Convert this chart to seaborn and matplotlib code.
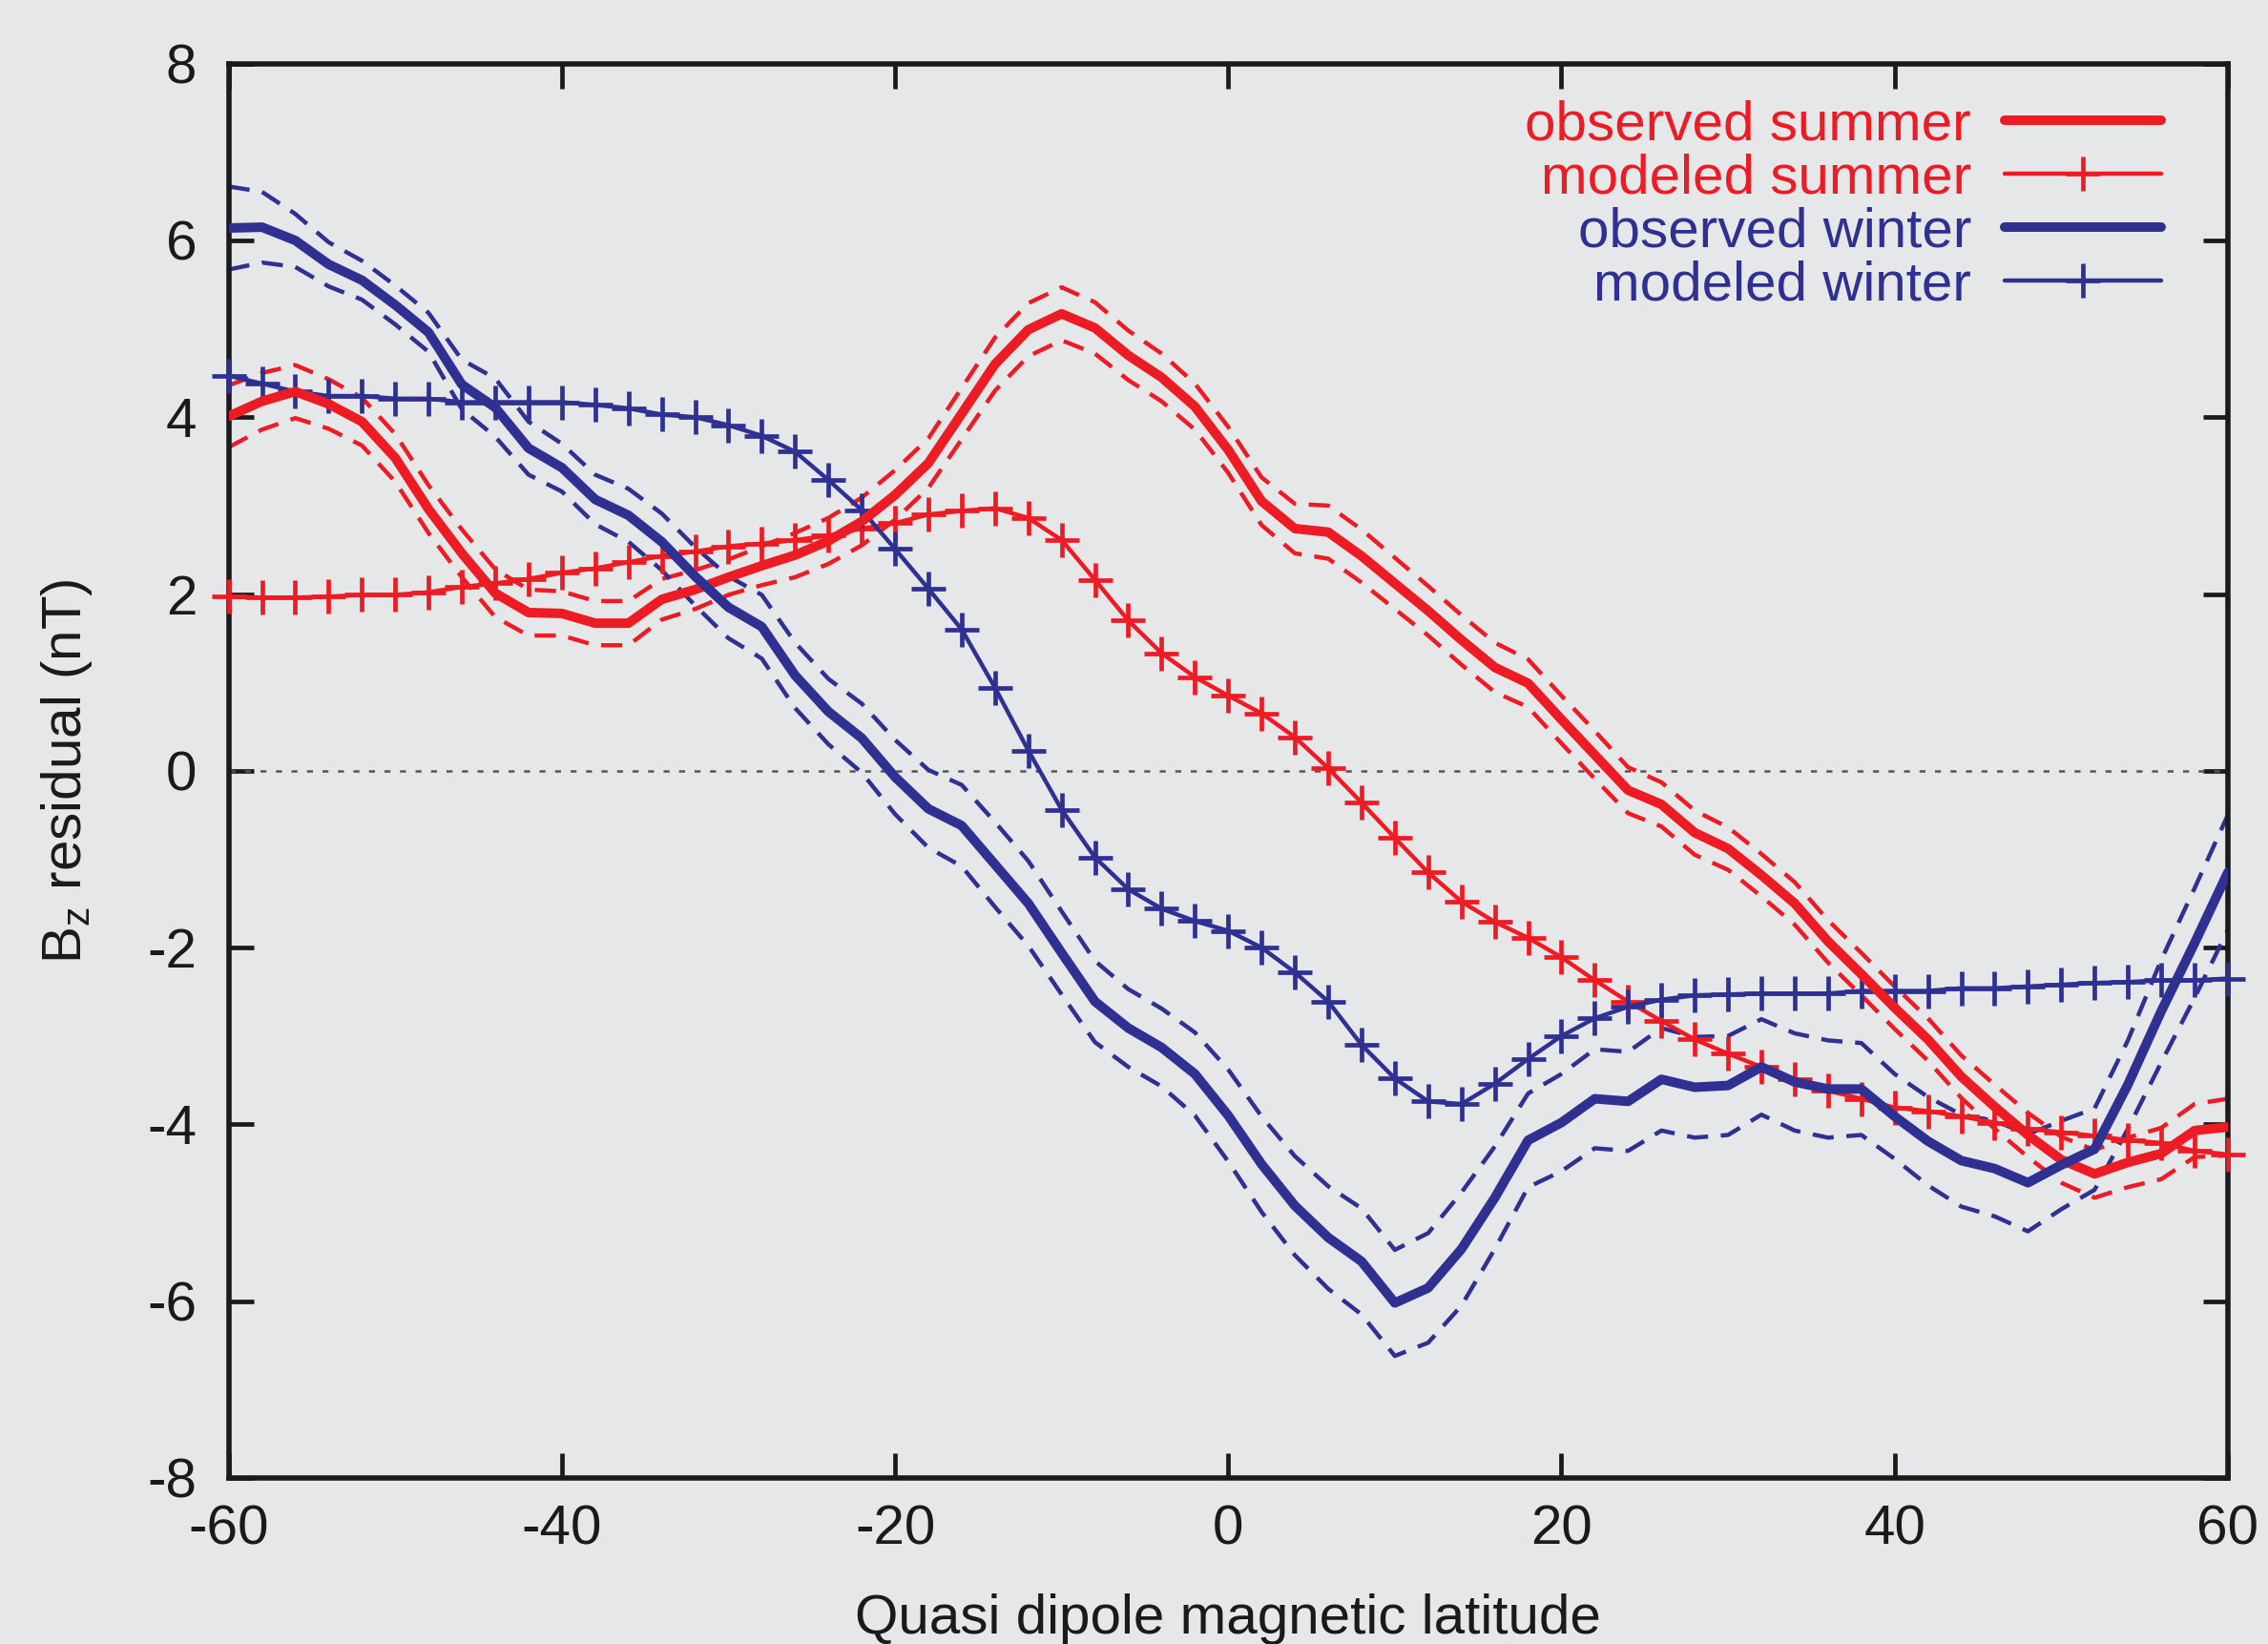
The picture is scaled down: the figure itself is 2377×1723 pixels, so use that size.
import matplotlib
matplotlib.use("Agg")
import matplotlib.pyplot as plt
import numpy as np
import pandas as pd
import seaborn as sns

# ---------------------------------------------------------------------------
# Data (2 degree steps)
# ---------------------------------------------------------------------------
lat = list(range(-60, 61, 2))

obs_summer = [
    4.01, 4.18, 4.29, 4.15, 3.95, 3.54, 2.96, 2.46, 2.01, 1.79,
    1.78, 1.67, 1.67, 1.94, 2.05, 2.19, 2.32, 2.44, 2.60, 2.82,
    3.12, 3.48, 4.04, 4.60, 4.99, 5.17, 5.01, 4.70, 4.45, 4.12,
    3.63, 3.05, 2.74, 2.70, 2.43, 2.12, 1.81, 1.48, 1.17, 0.99,
    0.58, 0.18, -0.22, -0.38, -0.70, -0.88, -1.18, -1.50, -1.93, -2.30,
    -2.68, -3.04, -3.46, -3.80, -4.12, -4.40, -4.56, -4.43, -4.33, -4.07,
    -4.03,
]
obs_summer_err = [
    0.35, 0.32, 0.30, 0.28, 0.27, 0.27, 0.27, 0.27, 0.27, 0.26,
    0.25, 0.25, 0.25, 0.23, 0.22, 0.20, 0.22, 0.25, 0.26, 0.27,
    0.28, 0.28, 0.29, 0.30, 0.30, 0.30, 0.29, 0.28, 0.27, 0.26,
    0.26, 0.27, 0.28, 0.30, 0.30, 0.29, 0.28, 0.28, 0.28, 0.27,
    0.27, 0.27, 0.26, 0.25, 0.25, 0.24, 0.24, 0.24, 0.24, 0.24,
    0.24, 0.24, 0.24, 0.25, 0.25, 0.26, 0.27, 0.28, 0.29, 0.30,
    0.32,
]
mod_summer = [
    1.97, 1.96, 1.96, 1.97, 1.99, 1.99, 2.02, 2.08, 2.12, 2.17,
    2.24, 2.29, 2.36, 2.43, 2.48, 2.54, 2.57, 2.61, 2.66, 2.74,
    2.80, 2.90, 2.94, 2.97, 2.86, 2.61, 2.16, 1.70, 1.33, 1.06,
    0.85, 0.65, 0.38, 0.03, -0.36, -0.76, -1.15, -1.48, -1.71, -1.89,
    -2.11, -2.37, -2.61, -2.83, -3.04, -3.20, -3.35, -3.49, -3.62, -3.71,
    -3.81, -3.85, -3.91, -3.98, -4.05, -4.09, -4.13, -4.18, -4.21, -4.30,
    -4.34,
]
obs_winter = [
    6.14, 6.15, 6.00, 5.73, 5.55, 5.27, 4.96, 4.37, 4.11, 3.65,
    3.43, 3.07, 2.89, 2.59, 2.20, 1.85, 1.63, 1.08, 0.67, 0.37,
    -0.07, -0.43, -0.62, -1.06, -1.50, -2.06, -2.61, -2.91, -3.13, -3.43,
    -3.90, -4.45, -4.92, -5.28, -5.55, -6.02, -5.85, -5.41, -4.83, -4.18,
    -3.98, -3.71, -3.74, -3.49, -3.58, -3.56, -3.35, -3.52, -3.60, -3.60,
    -3.91, -4.19, -4.41, -4.50, -4.66, -4.46, -4.28, -3.55, -2.72, -1.95,
    -1.15,
]
obs_winter_err = [
    0.47, 0.40, 0.30, 0.25, 0.22, 0.22, 0.22, 0.28, 0.33, 0.30,
    0.27, 0.28, 0.30, 0.32, 0.33, 0.35, 0.36, 0.37, 0.37, 0.39,
    0.42, 0.44, 0.46, 0.48, 0.48, 0.47, 0.46, 0.44, 0.44, 0.47,
    0.52, 0.54, 0.56, 0.58, 0.60, 0.60, 0.62, 0.64, 0.58, 0.53,
    0.55, 0.56, 0.56, 0.58, 0.57, 0.56, 0.54, 0.55, 0.55, 0.52,
    0.48, 0.50, 0.52, 0.54, 0.55, 0.50, 0.46, 0.50, 0.58, 0.62,
    0.65,
]
mod_winter = [
    4.47, 4.38, 4.29, 4.24, 4.24, 4.21, 4.21, 4.17, 4.17, 4.17,
    4.17, 4.14, 4.10, 4.03, 4.00, 3.91, 3.79, 3.61, 3.29, 2.95,
    2.51, 2.06, 1.60, 0.94, 0.23, -0.44, -0.98, -1.34, -1.56, -1.70,
    -1.81, -2.00, -2.28, -2.61, -3.10, -3.48, -3.74, -3.77, -3.54, -3.26,
    -3.00, -2.80, -2.67, -2.59, -2.54, -2.53, -2.52, -2.52, -2.52, -2.49,
    -2.49, -2.49, -2.46, -2.46, -2.44, -2.42, -2.40, -2.39, -2.37, -2.37,
    -2.35,
]

x_ticks = [-60, -40, -20, 0, 20, 40, 60]
y_ticks = [-8, -6, -4, -2, 0, 2, 4, 6, 8]

RED = "#ed1c24"
BLUE = "#2e3192"
BG = "#e6e7e8"
FS = 21

# ---------------------------------------------------------------------------
# Style
# ---------------------------------------------------------------------------
sns.set_theme(style="ticks")
plt.rcParams["font.family"] = ["Liberation Sans", "DejaVu Sans"]
plt.rcParams["mathtext.default"] = "regular"
plt.rcParams["figure.facecolor"] = BG
plt.rcParams["axes.facecolor"] = BG

df = pd.DataFrame({
    "lat": lat,
    "obs_summer": obs_summer,
    "obs_summer_err": obs_summer_err,
    "mod_summer": mod_summer,
    "obs_winter": obs_winter,
    "obs_winter_err": obs_winter_err,
    "mod_winter": mod_winter,
})

fig = plt.figure(figsize=(2377 / 200, 1723 / 200), dpi=200)
ax = fig.add_axes([0.1008, 0.101, 0.8815, 0.8603])

# zero reference line
ax.axhline(0, color="#555555", lw=0.9, linestyle=(0, (2.5, 4)), zorder=1)

dash = (0, (5, 3))

# error envelopes of the observed curves
for col, color in [("obs_summer", RED), ("obs_winter", BLUE)]:
    for sign in (1, -1):
        sns.lineplot(
            x=df["lat"], y=df[col] + sign * df[col + "_err"], ax=ax,
            color=color, lw=1.6, linestyle=dash, errorbar=None, zorder=2,
        )

sns.lineplot(data=df, x="lat", y="obs_summer", ax=ax, color=RED, lw=3.6,
             label="observed summer", errorbar=None, zorder=4)
sns.lineplot(data=df, x="lat", y="mod_summer", ax=ax, color=RED, lw=1.6,
             marker="+", markersize=13, markeredgewidth=1.7,
             markeredgecolor=RED, label="modeled summer", errorbar=None,
             zorder=3, clip_on=False)
sns.lineplot(data=df, x="lat", y="obs_winter", ax=ax, color=BLUE, lw=3.6,
             label="observed winter", errorbar=None, zorder=4)
sns.lineplot(data=df, x="lat", y="mod_winter", ax=ax, color=BLUE, lw=1.6,
             marker="+", markersize=13, markeredgewidth=1.7,
             markeredgecolor=BLUE, label="modeled winter", errorbar=None,
             zorder=3, clip_on=False)

ax.set_xlim(-60, 60)
ax.set_ylim(-8, 8)
ax.set_xticks(x_ticks)
ax.set_yticks(y_ticks)
ax.set_xticklabels([str(v) for v in x_ticks])
ax.set_yticklabels([str(v) for v in y_ticks])

for side in ["left", "right", "top", "bottom"]:
    ax.spines[side].set_visible(True)
    ax.spines[side].set_linewidth(2.0)
    ax.spines[side].set_color("#1a1a1a")

ax.tick_params(axis="both", which="major", direction="in", length=9.5,
               width=1.7, color="#1a1a1a", labelsize=FS,
               top=True, right=True, labelcolor="#1a1a1a")
ax.tick_params(axis="y", pad=12)
ax.tick_params(axis="x", pad=10)

ax.set_xlabel("Quasi dipole magnetic latitude", fontsize=FS, color="#1a1a1a",
              labelpad=14)
ax.set_ylabel("B$_z$ residual (nT)", fontsize=FS, color="#1a1a1a",
              labelpad=20)

handles, labels = ax.get_legend_handles_labels()
leg = ax.legend(handles, labels, loc="upper right", frameon=False,
                markerfirst=False, fontsize=FS, handlelength=2.82,
                handletextpad=0.6, labelspacing=0.03, borderaxespad=0.0,
                bbox_to_anchor=(0.978, 0.99), labelcolor="linecolor")

fig.savefig("out.png", dpi=200, facecolor=BG)
